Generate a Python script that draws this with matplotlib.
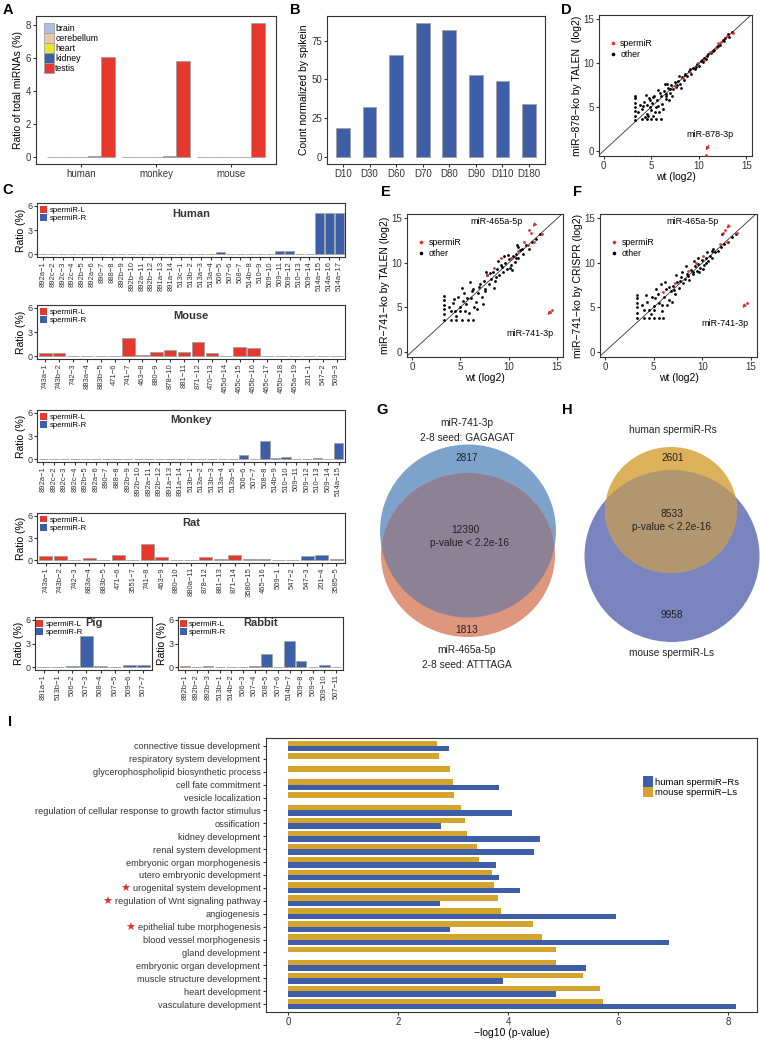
import numpy as np
import matplotlib
matplotlib.use('Agg')
import matplotlib.pyplot as plt
from matplotlib.patches import Ellipse, Patch
from matplotlib.lines import Line2D

plt.rcParams['font.family'] = ['Liberation Sans', 'DejaVu Sans']
plt.rcParams['axes.edgecolor'] = '#333333'
plt.rcParams['xtick.color'] = '#333333'
plt.rcParams['ytick.color'] = '#333333'
plt.rcParams['xtick.major.size'] = 2
plt.rcParams['ytick.major.size'] = 2

# ---- A: ratio of spermiRs in tissues
species_a = ['human', 'monkey', 'mouse']
tissues = ['brain', 'cerebellum', 'heart', 'kidney', 'testis']
brain_ratio = [0.0, 0.0, 0.0]
cerebellum_ratio = [0.0, 0.0, 0.0]
heart_ratio = [0.0, 0.0, 0.0]
kidney_ratio = [0.1, 0.1, 0.0]
testis_ratio = [6.1, 5.8, 8.1]
tissue_colors = ['#a9c1e0', '#ebc6aa', '#e8e62e', '#3d5ea8', '#e5382f']

# ---- B: expression during development
stages = ['D10', 'D30', 'D60', 'D70', 'D80', 'D90', 'D110', 'D180']
stage_counts = [19, 32.5, 65.5, 86.5, 81.5, 53, 49, 34]

# ---- C: per-species cluster ratios
human_names = ['892a−1', '892c−2', '892c−3', '892c−4', '892b−5', '892a−6', '890−7', '888−8',
               '892b−9', '892b−10', '892a−11', '892b−12', '891a−13', '891a−14', '513c−1',
               '513b−2', '513a−3', '513a−4', '506−5', '507−6', '508−7', '514b−8', '510−9',
               '509−10', '509−11', '509−12', '510−13', '509−14', '514a−15', '514a−16', '514a−17']
human_vals = [0] * 14 + [0.05, 0.02, 0.05, 0.05, 0.3, 0.02, 0.02, 0.05, 0.02, 0.05, 0.45, 0.4,
                         0.05, 0.02, 5.1, 5.1, 5.1]
human_arm = ['L'] * 14 + ['R'] * 17

mouse_names = ['743a−1', '743b−2', '742−3', '883a−4', '883b−5', '471−6', '741−7', '463−8', '880−9',
               '878−10', '881−11', '871−12', '470−13', '465d−14', '465c−15', '465b−16', '465c−17',
               '465b−18', '465a−19', '201−1', '547−2', '509−3']
mouse_vals = [0.35, 0.35, 0, 0, 0, 0, 2.25, 0.2, 0.55, 0.8, 0.5, 1.7, 0.4, 0, 1.15, 1.0, 0, 0, 0,
              0, 0, 0]
mouse_arm = ['L'] * 19 + ['R'] * 3

monkey_names = ['892a−1', '892c−2', '892c−3', '892c−4', '892b−5', '892a−6', '890−7', '888−8',
                '892b−9', '892b−10', '892a−11', '892b−12', '891a−13', '891a−14', '513b−1',
                '513a−2', '513b−3', '513a−4', '513a−5', '506−6', '507−7', '508−8', '514b−9',
                '510−10', '509−11', '509−12', '510−13', '509−14', '514a−15']
monkey_vals = [0] * 14 + [0.02, 0.02, 0.02, 0.05, 0.05, 0.6, 0.05, 2.4, 0.2, 0.35, 0.05, 0.05,
                          0.15, 0.02, 2.1]
monkey_arm = ['L'] * 14 + ['R'] * 15

rat_names = ['743a−1', '743b−2', '742−3', '883a−4', '883b−5', '471−6', '3551−7', '741−8', '463−9',
             '880−10', '880a−11', '878−12', '881−13', '871−14', '3580−15', '465−16', '509−1',
             '547−2', '547−3', '201−4', '3585−5']
rat_vals = [0.6, 0.55, 0.05, 0.3, 0.05, 0.75, 0.05, 2.25, 0.5, 0.05, 0.1, 0.5, 0.15, 0.75, 0.25,
            0.15, 0.1, 0.05, 0.6, 0.7, 0.15]
rat_arm = ['L'] * 16 + ['R'] * 5

pig_names = ['891a−1', '513b−1', '506−2', '507−3', '508−4', '507−5', '509−6', '507−7']
pig_vals = [0.02, 0.05, 0.15, 4.0, 0.2, 0.05, 0.25, 0.3]
pig_arm = ['L'] + ['R'] * 7

rabbit_names = ['892b−1', '892b−2', '892b−3', '513b−1', '514b−2', '506−3', '507−4', '508−5',
                '507−6', '514b−7', '509−8', '509−9', '509−10', '507−11']
rabbit_vals = [0.15, 0.05, 0.15, 0.02, 0.02, 0.05, 0.1, 1.7, 0.05, 3.35, 0.85, 0.02, 0.3, 0.05]
rabbit_arm = ['L'] * 3 + ['R'] * 11

# ---- D: miR-878 ko (TALEN)
d_other_x = [3.3, 3.3, 3.3, 3.3, 3.3, 3.3, 3.3, 4.0, 4.5, 5.0, 5.5, 6.0, 4.0, 4.2, 4.5, 4.6, 4.8,
             5.0, 5.1, 5.3, 5.5, 5.6, 5.8, 6.0, 6.1, 6.3, 6.5, 6.6, 6.8, 7.0, 7.1, 7.3, 7.5, 7.6,
             7.8, 8.0, 8.2, 8.4, 8.6, 8.8, 9.0, 9.2, 9.4, 9.6, 9.8, 10.0, 10.2, 10.4, 10.6, 10.8,
             11.0, 11.3, 11.6, 11.9, 12.2, 12.5, 12.8, 13.2, 13.5, 4.3, 5.2, 6.2, 6.9, 5.7, 8.1,
             6.4, 3.8, 4.4, 4.9, 5.4, 5.9, 4.7, 5.2, 6.7, 7.2, 7.9, 3.6, 4.1, 4.9, 5.7, 6.5, 7.0,
             7.7, 8.5, 9.1, 9.7, 10.3, 10.9, 11.5, 12.0, 12.7, 13.1]
d_other_y = [3.5, 4.0, 4.5, 5.0, 5.5, 6.0, 6.3, 3.6, 3.6, 3.6, 3.6, 3.6, 4.8, 5.6, 4.2, 5.2, 6.0,
             4.6, 5.4, 6.3, 5.0, 5.8, 4.4, 6.2, 5.3, 6.8, 5.9, 6.5, 7.2, 6.6, 7.5, 7.0, 7.8, 7.3,
             8.0, 7.6, 8.4, 8.1, 8.8, 8.5, 9.1, 8.8, 9.5, 9.3, 9.9, 9.7, 10.3, 10.1, 10.6, 10.5,
             11.1, 11.2, 11.5, 11.9, 12.1, 12.6, 12.9, 13.0, 13.6, 3.9, 4.0, 4.8, 5.8, 6.9, 7.2,
             7.6, 5.2, 6.4, 5.8, 4.4, 6.6, 4.0, 6.1, 7.6, 6.3, 8.5, 4.4, 5.1, 5.0, 5.1, 6.2, 7.1,
             7.5, 8.6, 9.3, 9.6, 10.4, 10.8, 11.4, 12.0, 12.5, 13.3]
d_sperm_x = [7.5, 8.3, 9.1, 9.9, 10.5, 11.2, 11.8, 12.3, 13.0, 13.6, 12.0, 10.8]
d_sperm_y = [7.4, 8.3, 9.0, 10.0, 10.4, 11.3, 11.7, 12.4, 13.1, 13.5, 12.3, -0.45]
d_zero_x = [3.3, 3.8, 4.2, 4.6, 5.0, 5.3, -0.5, -0.5, -0.5, -0.5]
d_zero_y = [-0.55, -0.55, -0.55, -0.55, -0.55, -0.55, 4.0, 4.6, 5.2, 5.8]

# ---- E: miR-741 ko (TALEN)
e_other_x = [3.3, 3.3, 3.3, 3.3, 3.3, 3.3, 4.0, 4.6, 5.2, 5.8, 6.3, 4.0, 4.5, 5.0, 5.5, 4.2, 4.8,
             5.0, 5.4, 5.6, 5.9, 6.1, 6.3, 6.6, 6.8, 7.0, 7.2, 7.4, 7.6, 7.8, 8.0, 8.2, 8.4, 8.6,
             8.8, 9.0, 9.2, 9.4, 9.6, 9.8, 10.0, 10.2, 10.4, 10.6, 10.8, 11.0, 11.2, 11.5, 11.8,
             12.1, 12.4, 12.8, 13.2, 6.0, 7.3, 8.5, 9.5, 10.3, 5.2, 4.6, 6.7, 11.0, 5.7, 6.4, 7.7,
             8.9, 9.9, 10.9, 3.8, 4.4, 5.3, 6.2, 6.9, 7.5, 8.1, 8.7, 9.3, 10.1, 10.7, 11.4]
e_other_y = [3.6, 4.2, 4.8, 5.3, 5.8, 6.3, 3.6, 3.6, 3.6, 3.6, 3.6, 4.6, 4.6, 4.6, 4.6, 5.5, 6.2,
             5.0, 6.6, 5.4, 4.4, 6.0, 7.1, 5.6, 6.6, 7.6, 6.2, 8.0, 7.1, 8.6, 7.6, 8.2, 9.0, 8.0,
             9.3, 8.6, 9.8, 9.0, 10.0, 9.3, 10.4, 9.8, 10.8, 10.1, 11.0, 10.5, 11.4, 11.0, 12.0,
             11.6, 12.3, 12.7, 13.2, 7.9, 5.4, 7.2, 10.8, 9.2, 7.2, 4.0, 4.8, 11.8, 6.0, 5.0,
             9.0, 10.2, 10.9, 12.0, 5.0, 5.9, 5.7, 6.8, 7.3, 6.8, 8.9, 8.4, 9.5, 9.4, 10.6, 11.6]
e_sperm_x = [12.1, 12.3, 12.6, 13.4, 11.6, 10.2, 9.2, 8.5, 7.8, 12.0, 11.0, 14.5, 14.3]
e_sperm_y = [13.7, 13.4, 12.4, 13.3, 12.3, 10.5, 10.6, 9.4, 8.6, 12.0, 11.3, 4.7, 4.5]

# ---- F: miR-741 ko (CRISPR)
f_other_x = [3.3, 3.3, 3.3, 3.3, 3.3, 3.3, 4.0, 4.5, 5.0, 5.5, 6.0, 4.0, 4.5, 5.0, 4.3, 4.8,
             5.0, 5.4, 5.6, 5.9, 6.1, 6.3, 6.6, 6.8, 7.0, 7.2, 7.4, 7.6, 7.8, 8.0, 8.2, 8.4, 8.6,
             8.8, 9.0, 9.2, 9.4, 9.6, 9.8, 10.0, 10.2, 10.4, 10.6, 10.8, 11.0, 11.3, 11.6, 11.9,
             12.2, 12.6, 13.0, 13.4, 5.8, 6.9, 7.9, 9.1, 10.1, 5.2, 4.7, 6.4, 11.1, 6.2, 7.3, 8.3,
             9.5, 10.5, 12.0, 3.8, 4.2, 5.1, 5.9, 6.6, 7.1, 7.7, 8.5, 9.0, 9.7, 10.4, 11.0]
f_other_y = [3.8, 4.4, 5.0, 5.5, 6.0, 6.4, 3.8, 3.8, 3.8, 3.8, 3.8, 4.7, 4.7, 4.7, 5.6, 6.1,
             5.1, 6.5, 5.5, 4.6, 6.2, 7.0, 5.8, 6.8, 7.4, 6.5, 7.9, 7.2, 8.4, 7.7, 8.2, 8.8, 8.1,
             9.2, 8.7, 9.6, 9.1, 9.9, 9.4, 10.3, 9.8, 10.6, 10.2, 10.8, 10.6, 11.2, 11.3, 11.8,
             12.1, 12.4, 12.9, 13.3, 7.6, 5.6, 9.0, 10.2, 9.3, 7.0, 4.2, 5.2, 11.6, 7.8, 8.6, 9.6,
             10.5, 11.2, 13.2, 5.3, 6.4, 6.0, 5.3, 7.3, 6.9, 8.0, 8.5, 9.0, 9.0, 10.0, 11.3]
f_sperm_x = [12.1, 12.3, 12.5, 13.5, 11.8, 10.1, 9.3, 8.5, 7.2, 6.0, 14.6, 14.3]
f_sperm_y = [13.4, 13.7, 12.3, 13.4, 12.1, 10.8, 10.0, 9.1, 7.7, 6.7, 5.5, 5.2]

# ---- I: GO enrichment
go_terms = ['connective tissue development', 'respiratory system development',
            'glycerophospholipid biosynthetic process', 'cell fate commitment',
            'vesicle localization', 'regulation of cellular response to growth factor stimulus',
            'ossification', 'kidney development', 'renal system development',
            'embryonic organ morphogenesis', 'utero embryonic development',
            'urogenital system development', 'regulation of Wnt signaling pathway',
            'angiogenesis', 'epithelial tube morphogenesis', 'blood vessel morphogenesis',
            'gland development', 'embryonic organ development', 'muscle structure development',
            'heart development', 'vasculature development']
go_human = [2.93, 0, 0, 3.83, 0, 4.07, 2.78, 4.58, 4.47, 3.78, 3.84, 4.22, 2.76, 5.95, 2.94,
            6.92, 0, 5.41, 3.90, 4.87, 8.13]
go_mouse = [2.70, 2.74, 2.95, 2.99, 3.01, 3.14, 3.21, 3.26, 3.44, 3.47, 3.71, 3.75, 3.82, 3.87,
            4.45, 4.61, 4.87, 4.87, 5.36, 5.66, 5.72]
starred = ['urogenital system development', 'regulation of Wnt signaling pathway',
           'epithelial tube morphogenesis']

W, H = 760, 1043
fig = plt.figure(figsize=(W / 100, H / 100), dpi=100)


def ax_px(l, t, r, b):
    return fig.add_axes([l / W, 1 - b / H, (r - l) / W, (b - t) / H])


def letter(x, y, s):
    fig.text(x / W, 1 - y / H, s, fontsize=10.5, fontweight='bold', ha='center', va='center')


EDGE = '#a0a0a0'

# A
axA = ax_px(36, 16, 276, 164)
xa = np.arange(1, len(species_a) + 1)
bw = 0.9 / len(tissues)
for k, vals in enumerate([brain_ratio, cerebellum_ratio, heart_ratio, kidney_ratio, testis_ratio]):
    axA.bar(xa - 0.45 + bw * (k + 0.5), vals, bw, color=tissue_colors[k], edgecolor=EDGE,
            linewidth=0.6, label=tissues[k])
axA.set_xlim(0.4, 3.6)
axA.set_ylim(-0.4, 8.55)
axA.set_xticks(xa)
axA.set_xticklabels(species_a, fontsize=7)
axA.set_yticks([0, 2, 4, 6, 8])
axA.tick_params(labelsize=7, pad=1.5)
axA.set_ylabel('Ratio of total miRNAs (%)', fontsize=7.5, labelpad=2)
axA.legend(loc='upper left', bbox_to_anchor=(0.035, 0.955), frameon=False, fontsize=6.3,
           handlelength=1.1, handleheight=1.4, labelspacing=0, handletextpad=0.15,
           borderpad=0, borderaxespad=0)
letter(8, 10, 'A')

# B
axB = ax_px(327, 16, 545, 164)
xb = np.arange(1, len(stages) + 1)
axB.bar(xb, stage_counts, 0.52, color='#3e5fa8', edgecolor=EDGE, linewidth=0.6)
axB.set_xlim(0.4, len(stages) + 0.6)
axB.set_ylim(-4.4, 90.8)
axB.set_xticks(xb)
axB.set_xticklabels(stages)
axB.set_yticks([0, 25, 50, 75])
axB.tick_params(labelsize=7, pad=1.5)
axB.set_ylabel('Count normalized by spikein', fontsize=7.5, labelpad=2)
letter(295, 10, 'B')


def scatter_panel(ax, ox, oy, sx, sy, ylabel):
    ax.plot([-0.5, 15.6], [-0.5, 15.6], color='#333333', lw=0.6, zorder=1)
    ax.scatter(ox, oy, s=4, color='black', linewidths=0, zorder=2)
    ax.scatter(sx, sy, s=4, color='#e0302a', linewidths=0, zorder=3)
    ax.set_xlim(-0.5, 15.6)
    ax.set_ylim(-0.6, 15.5)
    ax.set_xticks([0, 5, 10, 15])
    ax.set_yticks([0, 5, 10, 15])
    ax.tick_params(labelsize=7, pad=1.5)
    ax.set_xlabel('wt (log2)', fontsize=7.5, labelpad=0.5)
    ax.set_ylabel(ylabel, fontsize=7.5, labelpad=1)
    h = [Line2D([], [], ls='', marker='o', ms=1.6, color='#e0302a'),
         Line2D([], [], ls='', marker='o', ms=1.6, color='black')]
    ax.legend(h, ['spermiR', 'other'], loc='upper left', bbox_to_anchor=(0.07, 0.83),
              frameon=False, fontsize=6.3, handlelength=0.8, handletextpad=0.4,
              labelspacing=0.2, borderpad=0, borderaxespad=0)


arrow = dict(arrowstyle='-|>', color='#e0302a', lw=0.8, mutation_scale=5)

# D
axD = ax_px(599, 15, 752, 156)
scatter_panel(axD, d_other_x, d_other_y, d_sperm_x, d_sperm_y, 'miR−878−ko by TALEN  (log2)')
axD.scatter(d_zero_x, d_zero_y, s=1.5, color='#b0b0b0', linewidths=0, zorder=2, clip_on=False)
axD.annotate('', xy=(10.6, -0.25), xytext=(11.2, 0.9), arrowprops=arrow)
axD.text(11.2, 1.8, 'miR-878-3p', fontsize=6.5, ha='center', va='center')
letter(566, 10, 'D')

# E
axE = ax_px(407, 214, 563, 357)
scatter_panel(axE, e_other_x, e_other_y, e_sperm_x, e_sperm_y, 'miR−741−ko by TALEN (log2)')
axE.annotate('', xy=(12.3, 13.8), xytext=(12.9, 14.6), arrowprops=arrow)
axE.text(8.7, 14.6, 'miR-465a-5p', fontsize=6.5, ha='center', va='center')
axE.annotate('', xy=(13.8, 3.9), xytext=(14.4, 4.6), arrowprops=arrow)
axE.text(12.2, 2.1, 'miR-741-3p', fontsize=6.5, ha='center', va='center')
letter(386, 192, 'E')

# F
axF = ax_px(600, 214, 757, 357)
scatter_panel(axF, f_other_x, f_other_y, f_sperm_x, f_sperm_y, 'miR−741−ko by CRISPR (log2)')
axF.annotate('', xy=(12.3, 13.6), xytext=(12.9, 14.4), arrowprops=arrow)
axF.text(9.0, 14.6, 'miR-465a-5p', fontsize=6.5, ha='center', va='center')
axF.annotate('', xy=(13.9, 4.7), xytext=(14.5, 5.4), arrowprops=arrow)
axF.text(12.3, 3.2, 'miR-741-3p', fontsize=6.5, ha='center', va='center')
letter(578, 192, 'F')

# C
ARM = {'L': '#e5382f', 'R': '#3d5ea8'}


def cluster_panel(box, names, vals, arms, title, ty=0.8):
    ax = ax_px(*box)
    x = np.arange(1, len(names) + 1)
    ax.bar(x, vals, 0.9, color=[ARM[a] for a in arms], edgecolor=EDGE, linewidth=0.6)
    ax.set_xlim(0.4, len(names) + 0.6)
    ax.set_ylim(-0.35, 6.35)
    ax.set_yticks([0, 3, 6])
    ax.set_xticks(x)
    ax.set_xticklabels(names, rotation=90, fontsize=5.5)
    ax.tick_params(axis='y', labelsize=6.5, pad=1)
    ax.tick_params(axis='x', pad=1)
    ax.set_ylabel('Ratio (%)', fontsize=7.5, labelpad=1)
    ax.text(0.5, ty, title, transform=ax.transAxes, ha='center', va='center',
            fontsize=8, fontweight='bold', color='#333333')
    h = [Patch(facecolor=ARM['L'], edgecolor='none'), Patch(facecolor=ARM['R'], edgecolor='none')]
    ax.legend(h, ['spermiR-L', 'spermiR-R'], loc='upper left', bbox_to_anchor=(0.01, 0.95),
              frameon=False, fontsize=5.6, handlelength=0.9, handleheight=1.0,
              handletextpad=0.3, labelspacing=0.05, borderpad=0, borderaxespad=0)
    return ax


cluster_panel((37, 203, 345, 257), human_names, human_vals, human_arm, 'Human')
cluster_panel((37, 305, 345, 359), mouse_names, mouse_vals, mouse_arm, 'Mouse')
cluster_panel((37, 410, 345, 462), monkey_names, monkey_vals, monkey_arm, 'Monkey')
cluster_panel((37, 513, 345, 563), rat_names, rat_vals, rat_arm, 'Rat')
cluster_panel((35, 617, 152, 670), pig_names, pig_vals, pig_arm, 'Pig', ty=0.88)
cluster_panel((178, 617, 343, 670), rabbit_names, rabbit_vals, rabbit_arm, 'Rabbit', ty=0.88)
letter(8, 190, 'C')

# G / H venn diagrams (axes in pixel units)
axV = ax_px(370, 395, 760, 672)
axV.set_xlim(370, 760)
axV.set_ylim(672, 395)
axV.axis('off')

g_a = Ellipse((468, 531), 176, 173, color='#7da3cd', lw=0)
g_b = Ellipse((468, 555), 174, 164, color='#de967d', lw=0)
g_ab = Ellipse((468, 555), 174, 164, color='#8d8196', lw=0)
for p in (g_a, g_b, g_ab):
    axV.add_patch(p)
g_ab.set_clip_path(g_a)
tk = dict(fontsize=7.3, ha='center', va='center', color='#222222')
axV.text(467, 423, 'miR-741-3p', **tk)
axV.text(467, 438, '2-8 seed: GAGAGAT', **tk)
axV.text(467, 458, '2817', **tk)
axV.text(465, 530, '12390', **tk)
axV.text(470, 543, 'p-value < 2.2e-16', **tk)
axV.text(467, 630, '1813', **tk)
axV.text(467, 650, 'miR-465a-5p', **tk)
axV.text(467, 665, '2-8 seed: ATTTAGA', **tk)
letter(382, 410, 'G')

h_b = Ellipse((672, 556), 175, 172, color='#7a84be', lw=0)
h_a = Ellipse((671, 510), 132, 126, color='#dcb15a', lw=0)
h_ab = Ellipse((672, 556), 175, 172, color='#b2966e', lw=0)
for p in (h_b, h_a, h_ab):
    axV.add_patch(p)
h_ab.set_clip_path(h_a)
axV.text(673, 430, 'human spermiR-Rs', **tk)
axV.text(673, 458, '2601', **tk)
axV.text(672, 514, '8533', **tk)
axV.text(672, 527, 'p-value < 2.2e-16', **tk)
axV.text(672, 615, '9958', **tk)
axV.text(672, 653, 'mouse spermiR-Ls', **tk)
letter(567, 410, 'H')

# I
axI = ax_px(266, 738, 757, 1012)
yi = np.arange(len(go_terms))
axI.barh(yi - 0.21, go_mouse, 0.42, color='#d4a42e', label='mouse spermiR−Ls')
axI.barh(yi + 0.21, go_human, 0.42, color='#3e5fa8', label='human spermiR−Rs')
axI.set_ylim(len(go_terms) - 1 + 0.62, -0.62)
axI.set_xlim(-0.4, 8.52)
axI.set_yticks(yi)
axI.set_yticklabels(go_terms)
axI.set_xticks([0, 2, 4, 6, 8])
axI.tick_params(axis='y', labelsize=6.6, pad=2)
axI.tick_params(axis='x', labelsize=7, pad=1.5)
axI.set_xlabel('−log10 (p-value)', fontsize=7.5, labelpad=1)
hh, ll = axI.get_legend_handles_labels()
axI.legend(hh[::-1], ll[::-1], loc='upper left', bbox_to_anchor=(0.768, 0.86), frameon=False,
           fontsize=6.8, handlelength=1.0, handleheight=1.3, labelspacing=0.05,
           handletextpad=0.3, borderpad=0, borderaxespad=0)
letter(10, 722, 'I')

fig.canvas.draw()
for lab in axI.get_yticklabels():
    if lab.get_text() in starred:
        bb = lab.get_window_extent()
        fig.text((bb.x0 - 2) / W, (bb.y0 + bb.y1) / 2 / H, '★', color='#e0302a',
                 fontsize=8, ha='right', va='center', family='DejaVu Sans')

fig.savefig('out.png', dpi=100)
